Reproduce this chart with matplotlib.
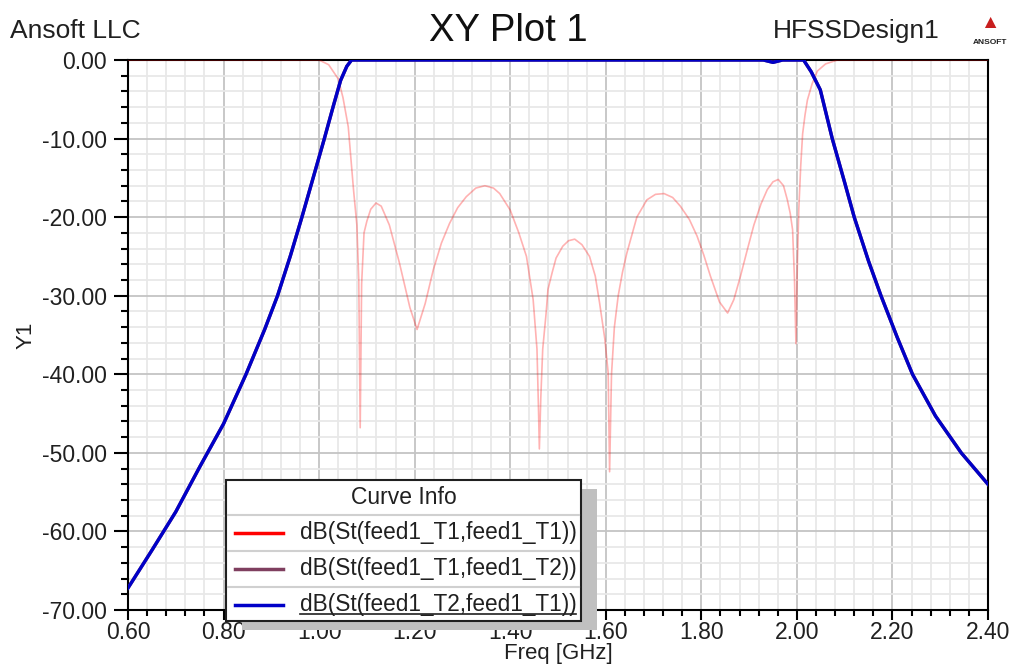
import matplotlib
matplotlib.use("Agg")
import matplotlib.pyplot as plt
from matplotlib.patches import Rectangle
from matplotlib.lines import Line2D
from matplotlib.ticker import MultipleLocator, FormatStrFormatter

plt.rcParams['font.family'] = ['Liberation Sans', 'DejaVu Sans']

# S11 (return loss)
s11_freq = [0.60, 1.00, 1.02, 1.04, 1.05, 1.061, 1.072, 1.079, 1.083, 1.086, 1.089,
            1.094, 1.10, 1.108, 1.119, 1.13, 1.147, 1.168, 1.19, 1.205, 1.222,
            1.239, 1.256, 1.273, 1.29, 1.308, 1.328, 1.347, 1.365, 1.378, 1.40,
            1.418, 1.434, 1.448, 1.456, 1.459, 1.461, 1.464, 1.468, 1.475, 1.479,
            1.488, 1.496, 1.51, 1.522, 1.535, 1.55, 1.566, 1.578, 1.587, 1.598,
            1.605, 1.608, 1.612, 1.618, 1.626, 1.635, 1.644, 1.665, 1.686, 1.704,
            1.722, 1.74, 1.756, 1.775, 1.791, 1.805, 1.819, 1.838, 1.855, 1.868,
            1.882, 1.896, 1.91, 1.925, 1.938, 1.95, 1.961, 1.972, 1.98, 1.986,
            1.991, 1.995, 1.998, 2.001, 2.004, 2.008, 2.012, 2.017, 2.022, 2.032,
            2.043, 2.06, 2.085, 2.40]
s11_db = [0.0, 0.0, -0.6, -2.4, -4.8, -8.5, -16.5, -21.0, -28.0, -46.8, -28.5,
          -22.0, -20.5, -19.0, -18.2, -18.6, -21.0, -25.8, -31.5, -34.3, -31.0,
          -26.7, -23.3, -20.8, -18.8, -17.4, -16.3, -16.0, -16.3, -17.0, -19.1,
          -22.0, -25.0, -30.5, -36.8, -44.0, -49.5, -43.0, -36.8, -32.3, -29.2,
          -27.0, -25.2, -23.7, -23.0, -22.8, -23.5, -25.0, -27.5, -30.9, -35.5,
          -39.8, -52.4, -40.0, -34.0, -30.0, -27.0, -24.6, -20.0, -17.8, -17.1,
          -17.0, -17.5, -18.6, -20.3, -22.4, -24.8, -27.5, -30.8, -32.2, -30.5,
          -27.5, -24.2, -21.0, -18.3, -16.5, -15.5, -15.2, -16.0, -17.8, -19.5,
          -21.6, -28.0, -36.1, -26.0, -19.0, -13.5, -9.4, -7.0, -5.1, -3.0,
          -1.4, -0.5, 0.0, 0.0]

# S21 / S12 (transmission, both identical)
s21_freq = [0.60, 0.65, 0.70, 0.75, 0.80, 0.847, 0.886, 0.913, 0.94, 0.964, 0.988,
            1.011, 1.03, 1.045, 1.058, 1.068, 1.93, 1.95, 1.97, 2.014, 2.03,
            2.049, 2.074, 2.10, 2.12, 2.15, 2.176, 2.21, 2.242, 2.29, 2.344, 2.40]
s21_db = [-67.2, -62.4, -57.5, -51.8, -46.3, -40.0, -34.3, -30.0, -24.9, -20.0, -14.9,
          -10.0, -5.8, -2.6, -0.8, 0.0, 0.0, -0.3, 0.0, 0.0, -1.5,
          -3.8, -10.0, -15.6, -20.0, -25.6, -30.0, -35.3, -40.0, -45.3, -50.0, -54.0]

names = ['dB(St(feed1_T1,feed1_T1))', 'dB(St(feed1_T1,feed1_T2))', 'dB(St(feed1_T2,feed1_T1))']
colors = ['#ff0000', '#7f3f5f', '#0000c8']

W, H = 1014, 666
fig = plt.figure(figsize=(W / 100, H / 100), dpi=100)


def fx(px):
    return px / W


def fy(py):
    return 1 - py / H


ax = fig.add_axes([fx(128), fy(610), fx(988) - fx(128), fy(60) - fy(610)])
ax.plot(s11_freq, s11_db, color='red', alpha=0.3, lw=1.2, zorder=3)
ax.plot(s21_freq, s21_db, color=colors[1], lw=2.4, zorder=3)
ax.plot(s21_freq, s21_db, color=colors[2], lw=2.4, zorder=4)

ax.set_xlim(0.6, 2.4)
ax.set_ylim(-70, 0)
ax.xaxis.set_major_locator(MultipleLocator(0.2))
ax.xaxis.set_minor_locator(MultipleLocator(0.04))
ax.yaxis.set_major_locator(MultipleLocator(10))
ax.yaxis.set_minor_locator(MultipleLocator(2))
ax.xaxis.set_major_formatter(FormatStrFormatter('%.2f'))
ax.yaxis.set_major_formatter(FormatStrFormatter('%.2f'))
ax.grid(which='major', color='#c4c4c4', lw=1.3)
ax.grid(which='minor', color='#e8e8e8', lw=1.3)
ax.set_axisbelow(True)
ax.tick_params(axis='y', which='major', length=10, width=1.5, pad=5, labelsize=16.5, labelcolor='#202020')
ax.tick_params(axis='y', which='minor', length=5, width=1.5)
ax.tick_params(axis='x', which='major', length=7, width=1.5, pad=1, labelsize=16.5, labelcolor='#202020')
ax.tick_params(axis='x', which='minor', length=4, width=1.5)
for s in ax.spines.values():
    s.set_linewidth(1.5)
ax.set_xlabel('Freq [GHz]', fontsize=16, color='#202020')
ax.xaxis.set_label_coords(0.5, -0.06)
ax.set_ylabel('Y1', fontsize=16, color='#202020', labelpad=4)

fig.text(fx(10), fy(31), 'Ansoft LLC', fontsize=19, color='#202020', ha='left', va='center')
fig.text(fx(508), fy(31), 'XY Plot 1', fontsize=27.5, color='#101010', ha='center', va='center')
fig.text(fx(940), fy(31), 'HFSSDesign1', fontsize=19, color='#202020', ha='right', va='center')
# Ansoft logo
fig.text(fx(990), fy(24), '\u25B2', fontsize=14, color='#c81e1e', ha='center', va='center')
fig.text(fx(990), fy(42), 'ANSOFT', fontsize=6, fontweight='bold', color='#202020', ha='center', va='center')

# Curve Info box with shadow
lx0, lx1, ly0, ly1 = 226, 581, 480, 621
fig.patches.append(Rectangle((fx(lx0 + 16), fy(ly1 + 9)), fx(lx1) - fx(lx0), fy(ly0) - fy(ly1),
                             transform=fig.transFigure, facecolor='#c0c0c0', edgecolor='none', zorder=5))
fig.patches.append(Rectangle((fx(lx0), fy(ly1)), fx(lx1) - fx(lx0), fy(ly0) - fy(ly1),
                             transform=fig.transFigure, facecolor='white', edgecolor='#202020', lw=1.5, zorder=6))
for sep in [515, 551, 587]:
    fig.lines.append(Line2D([fx(lx0 + 2), fx(lx1 - 2)], [fy(sep), fy(sep)], transform=fig.transFigure,
                            color='#d0d0d0', lw=1.5, zorder=7))
fig.text(fx(404), fy(497), 'Curve Info', fontsize=16.5, color='#202020', ha='center', va='center', zorder=8)
for i, (nm, c) in enumerate(zip(names, colors)):
    yy = 533 + i * 36
    fig.lines.append(Line2D([fx(235), fx(283)], [fy(yy), fy(yy)], transform=fig.transFigure,
                            color=c, lw=2.5, zorder=8))
    fig.text(fx(300), fy(yy), nm, fontsize=16.3, color='#202020', ha='left', va='center', zorder=8)
fig.lines.append(Line2D([fx(300), fx(576)], [fy(614), fy(614)], transform=fig.transFigure,
                        color='#202020', lw=1.2, zorder=8))

fig.savefig('out.png', dpi=100)
